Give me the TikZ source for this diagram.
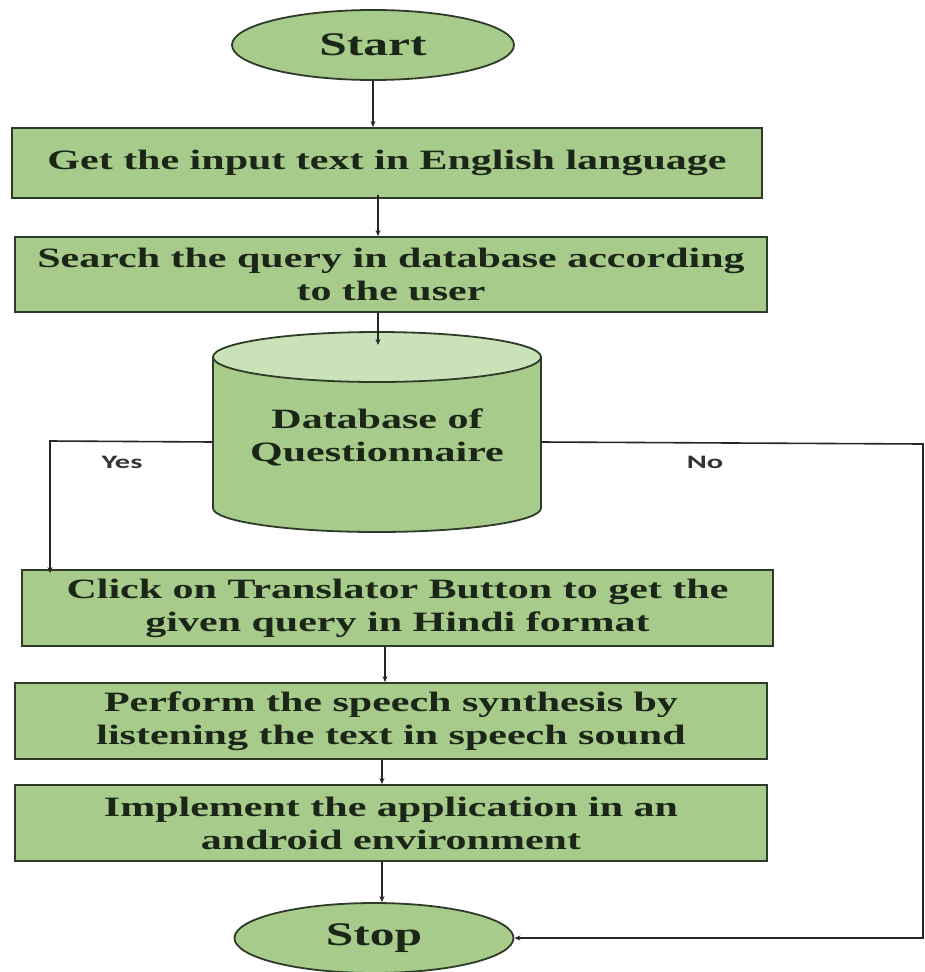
\documentclass[tikz,border=0pt]{standalone}
\usepackage{fontspec}
\setmainfont{Liberation Serif}[FakeStretch=1.5]
\newfontfamily\lblfont{Carlito}[FakeStretch=1.6]
\usetikzlibrary{shapes.geometric,arrows.meta}
\definecolor{boxfill}{HTML}{A6CB8B}
\definecolor{topfill}{HTML}{C9E2B8}
\definecolor{edge}{HTML}{2E3B28}
\definecolor{ink}{HTML}{1C2618}
\tikzset{
  stepbox/.style={draw=edge, line width=1.8pt, fill=boxfill, align=center, inner sep=0pt,
    font=\bfseries\fontsize{28}{33}\selectfont, text=ink},
  term/.style={ellipse, draw=edge, line width=1.8pt, fill=boxfill, inner sep=0pt,
    font=\bfseries\fontsize{33}{38}\selectfont, text=ink},
  arr/.style={line width=1.6pt, draw=black!85, -{Stealth[length=6pt,width=5pt]}},
  lbl/.style={font=\lblfont\bfseries\fontsize{19}{22}\selectfont, text=black!80}
}
\begin{document}
\begin{tikzpicture}[x=1pt,y=-1pt]
\useasboundingbox[fill=white] (0,0) rectangle (925,972);
% terminals
\node[term, minimum width=282pt, minimum height=70pt] (start) at (373,45) {Start};
\node[term, minimum width=279pt, minimum height=70pt] (stop) at (374,938) {Stop};
% boxes
\node[stepbox, minimum width=750pt, minimum height=70pt] (b1) at (387,163) {Get the input text in English language};
\node[stepbox, minimum width=752pt, minimum height=75pt] (b2) at (391,274.5) {Search the query in database according\\to the user};
\node[stepbox, minimum width=751pt, minimum height=76pt] (b3) at (397.5,608) {Click on Translator Button to get the\\given query in Hindi format};
\node[stepbox, minimum width=752pt, minimum height=76pt] (b4) at (391,721) {Perform the speech synthesis by\\listening the text in speech sound};
\node[stepbox, minimum width=752pt, minimum height=76pt] (b5) at (391,823) {Implement the application in an\\android environment};
% cylinder
\fill[boxfill] (213,357) -- (213,508) arc[start angle=180, end angle=360, x radius=164pt, y radius=24pt] -- (541,357) -- cycle;
\draw[edge, line width=1.8pt] (213,357) -- (213,508) arc[start angle=180, end angle=360, x radius=164pt, y radius=24pt] -- (541,357);
\draw[edge, line width=1.8pt, fill=topfill] (377,357) ellipse[x radius=164pt, y radius=25pt];
\node[minimum width=328pt, minimum height=2pt, inner sep=0pt] (db) at (377,442) {};
\node[align=center, font=\bfseries\fontsize{28}{33}\selectfont, text=ink] (dbt) at (377,437) {Database of\\Questionnaire};
\coordinate (dbtop) at (378,345);
% guides
\coordinate (g1) at (373,0);
\coordinate (g2) at (378,0);
\coordinate (g3) at (385,0);
\coordinate (g4) at (382,0);
\coordinate (yl) at (50,441);
\coordinate (nr) at (923,444);
% arrows
\draw[arr] (g1 |- start.south) -- (g1 |- b1.north);
\draw[arr] ([yshift=4pt]g2 |- b1.south) -- (g2 |- b2.north);
\draw[arr] (g2 |- b2.south) -- (dbtop);
\draw[arr] (db.west) -- (yl) -- ([yshift=-4pt]yl |- b3.north);
\draw[arr] (db.east) -- (nr) -- (nr |- stop.east) -- (stop.east);
\draw[arr] (g3 |- b3.south) -- (g3 |- b4.north);
\draw[arr] (g4 |- b4.south) -- (g4 |- b5.north);
\draw[arr] (g4 |- b5.south) -- (g4 |- stop.north);
% labels
\node[lbl] (yes) at (122,462) {Yes};
\node[lbl] (no) at (705,462) {No};
\end{tikzpicture}
\end{document}
